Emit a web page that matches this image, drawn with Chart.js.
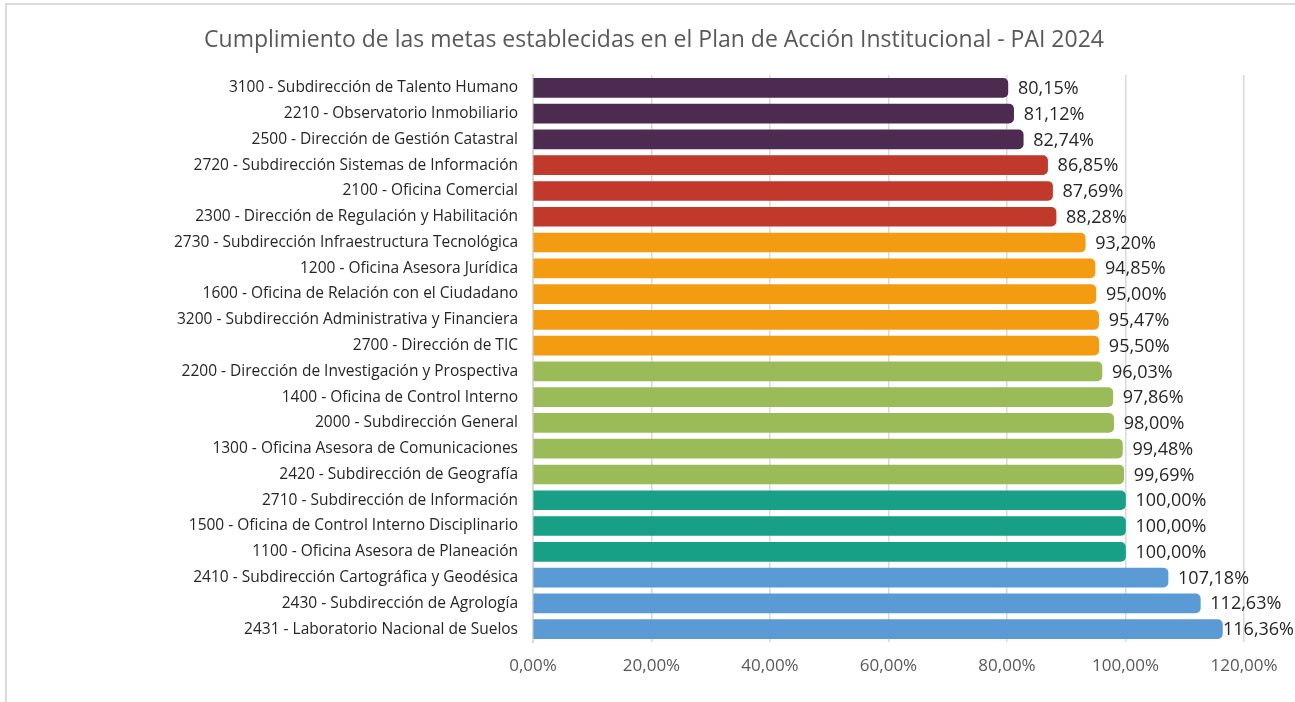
<!DOCTYPE html>
<html lang="es">
<head>
<meta charset="utf-8">
<title>Cumplimiento PAI 2024</title>
<script src="https://cdn.jsdelivr.net/npm/chart.js@4.4.1/dist/chart.umd.min.js"></script>
<style>
  html, body { margin: 0; padding: 0; background: #ffffff; overflow: hidden; }
  #marco {
    position: absolute; left: 5px; top: 3px; width: 1400px; height: 800px;
    border-top: 2px solid #dadada; border-left: 2px solid #dadada;
  }
  #graficoPAI { position: absolute; left: 0; top: 0; width: 1295px; height: 702px; }
</style>
</head>
<body>
<div id="marco"></div>
<canvas id="graficoPAI" width="1295" height="702"></canvas>
<script>
// Dependencias (de arriba hacia abajo)
const dependencias = [
    '3100 - Subdirección de Talento Humano',
    '2210 - Observatorio Inmobiliario',
    '2500 - Dirección de Gestión Catastral',
    '2720 - Subdirección Sistemas de Información',
    '2100 - Oficina Comercial',
    '2300 - Dirección de Regulación y Habilitación',
    '2730 - Subdirección Infraestructura Tecnológica',
    '1200 - Oficina Asesora Jurídica',
    '1600 - Oficina de Relación con el Ciudadano',
    '3200 - Subdirección Administrativa y Financiera',
    '2700 - Dirección de TIC',
    '2200 - Dirección de Investigación y Prospectiva',
    '1400 - Oficina de Control Interno',
    '2000 - Subdirección General',
    '1300 - Oficina Asesora de Comunicaciones',
    '2420 - Subdirección de Geografía',
    '2710 - Subdirección de Información',
    '1500 - Oficina de Control Interno Disciplinario',
    '1100 - Oficina Asesora de Planeación',
    '2410 - Subdirección Cartográfica y Geodésica',
    '2430 - Subdirección de Agrología',
    '2431 - Laboratorio Nacional de Suelos'
];

// % de cumplimiento
const cumplimiento = [80.15, 81.12, 82.74, 86.85, 87.69, 88.28, 93.20, 94.85, 95.00, 95.47, 95.50,
    96.03, 97.86, 98.00, 99.48, 99.69, 100.00, 100.00, 100.00, 107.18, 112.63, 116.36];

// grupo de color de cada barra
const grupo = [0, 0, 0, 1, 1, 1, 2, 2, 2, 2, 2, 3, 3, 3, 3, 3, 4, 4, 4, 5, 5, 5];

const ticksEje = [0, 20, 40, 60, 80, 100, 120];

const paleta = ['#4d2a4f', '#c0392b', '#f39c12', '#9bbb59', '#17a085', '#5b9bd5'];

function formatoPct(v) {
    return v.toFixed(2).replace('.', ',') + '%';
}

// etiquetas de valor al final de cada barra
const etiquetasValor = {
    id: 'etiquetasValor',
    afterDatasetsDraw(chart) {
        const ctx = chart.ctx;
        const meta = chart.getDatasetMeta(0);
        ctx.save();
        ctx.font = '18px "Open Sans"';
        ctx.fillStyle = '#262626';
        ctx.textAlign = 'left';
        ctx.textBaseline = 'middle';
        meta.data.forEach((bar, i) => {
            const txt = formatoPct(cumplimiento[i]);
            const w = ctx.measureText(txt).width;
            let x = bar.x + 10;
            if (x + w > chart.width - 1) x = chart.width - 1 - w;
            ctx.fillText(txt, x, bar.y + 1);
        });
        ctx.restore();
    }
};

const ctx = document.getElementById('graficoPAI').getContext('2d');
const grafico = new Chart(ctx, {
    type: 'bar',
    data: {
        labels: dependencias,
        datasets: [{
            data: cumplimiento,
            backgroundColor: grupo.map(g => paleta[g]),
            borderRadius: 5,
            borderSkipped: 'start',
            barThickness: 19
        }]
    },
    options: {
        indexAxis: 'y',
        responsive: false,
        animation: false,
        devicePixelRatio: 1,
        layout: { padding: { left: 64, right: 51, top: 0, bottom: 0 } },
        plugins: {
            legend: { display: false },
            tooltip: { enabled: false },
            title: {
                display: true,
                text: 'Cumplimiento de las metas establecidas en el Plan de Acción Institucional - PAI 2024',
                color: '#595959',
                font: { family: '"Open Sans"', size: 23, weight: 'normal', lineHeight: 1.2 },
                padding: { top: 27, bottom: 20.4 }
            }
        },
        scales: {
            x: {
                min: 0,
                max: 120,
                afterBuildTicks: (scale) => { scale.ticks = ticksEje.map(v => ({ value: v })); },
                afterFit: (scale) => { scale.height = 60; },
                grid: { color: '#d9d9d9', lineWidth: 1.5, drawTicks: false },
                border: { display: false },
                ticks: {
                    color: '#595959',
                    padding: 14,
                    font: { family: '"Open Sans"', size: 17 },
                    callback: (v) => formatoPct(v)
                }
            },
            y: {
                afterFit: (scale) => { scale.width = 533 - 64; },
                grid: { display: false, drawTicks: false },
                border: { display: true, color: '#d9d9d9', width: 2 },
                ticks: {
                    color: '#262626',
                    padding: 15,
                    autoSkip: false,
                    font: { family: '"Open Sans"', size: 15.5 }
                }
            }
        }
    },
    plugins: [etiquetasValor]
});
</script>
</body>
</html>
